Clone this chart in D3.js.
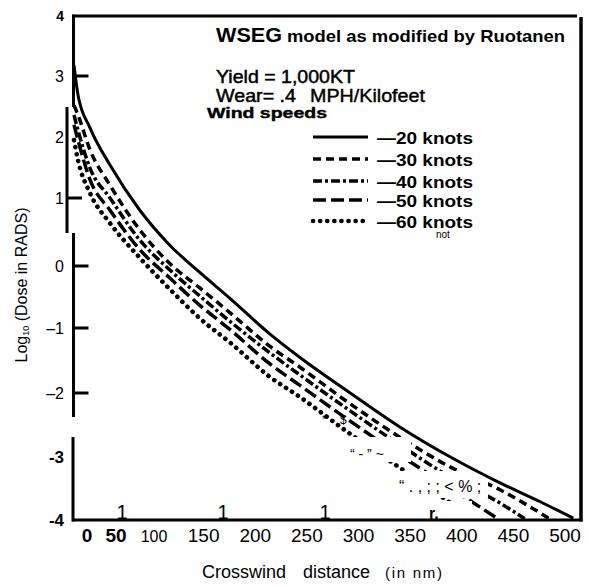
<!DOCTYPE html>
<html><head><meta charset="utf-8">
<script src="https://cdn.jsdelivr.net/npm/d3@7"></script>
<style>
body{margin:0;background:#fff}
svg{display:block}
text{font-family:"Liberation Sans",Arial,Helvetica,sans-serif;fill:#000}
</style>
</head><body><div id="chart"></div>
<script>
// ---- data ----
const windSpeeds = ["20 knots","30 knots","40 knots","50 knots","60 knots"];
const dist20 = [0,5,20,45,84,117,146,176,214,243,292,340,389,437,476,508];
const dose20 = [3.18,2.69,2.15,1.54,0.82,0.31,-0.10,-0.53,-1.09,-1.45,-2.00,-2.53,-3.00,-3.41,-3.71,-3.97];
const dist30 = [0,5,20,45,84,117,146,176,214,243,292,340,389,437,485];
const dose30 = [2.52,2.36,1.79,1.21,0.53,0.04,-0.35,-0.76,-1.28,-1.60,-2.17,-2.69,-3.16,-3.52,-3.98];
const dist40 = [0,5,20,45,84,117,146,176,214,243,292,340,389,437,461];
const dose40 = [2.36,2.11,1.49,1.00,0.38,-0.06,-0.48,-0.90,-1.38,-1.72,-2.28,-2.81,-3.32,-3.73,-3.98];
const dist50 = [0,5,20,45,84,117,146,176,214,243,292,340,389,435];
const dose50 = [2.20,1.95,1.30,0.82,0.24,-0.19,-0.63,-1.03,-1.55,-1.88,-2.44,-2.97,-3.49,-3.98];
const dist60 = [0,5,20,45,84,117,146,176,214,243,292,340,389,409];
const dose60 = [1.95,1.62,1.08,0.63,0.12,-0.37,-0.84,-1.23,-1.75,-2.06,-2.64,-3.17,-3.73,-3.98];
const xTicks = [0,50,100,150,200,250,300,350,400,450,500];
const xTickLabels = ["0","50","100","150","200","250","300","350","400","450","500"];
const yTicks = [4,3,2,1,0,-1,-2,-3,-4];
const yTickLabels = ["4","3","2","1","0","\u20131","\u20132","-3","-4"];
const yTickMarks = [3,1,0,-1,-2];

// ---- build ----
const W = 589, H = 586;
const svg = d3.select("#chart").append("svg").attr("width", W).attr("height", H);
const x = d3.scaleLinear().domain([0,50,100,500]).range([74,114,152,565]);
const y = d3.scaleLinear().domain([-4,-3,-2,-1,0,1,2,3,4]).range([520,457,393,328,266,198,137,76,16]);

const styles = [
  {dash:null, w:3},
  {dash:"8,5", w:3.5},
  {dash:"9,3,3,3", w:3.5},
  {dash:"13,5", w:3.5},
  {dash:"0.1,7", w:4.6, cap:"round"}
];
const series = [
  {name:windSpeeds[0], d:dist20, v:dose20},
  {name:windSpeeds[1], d:dist30, v:dose30},
  {name:windSpeeds[2], d:dist40, v:dose40},
  {name:windSpeeds[3], d:dist50, v:dose50},
  {name:windSpeeds[4], d:dist60, v:dose60}
].map((s,i)=>({...s, style:styles[i], pts:s.d.map((dd,j)=>[dd,s.v[j]])}));

const line = d3.line().x(p=>x(p[0])).y(p=>y(p[1])).curve(d3.curveMonotoneX);

function drawSeries(g, s){
  g.append("path").attr("d", line(s.pts)).attr("fill","none").attr("stroke","#000")
   .attr("stroke-width", s.style.w)
   .attr("stroke-dasharray", s.style.dash)
   .attr("stroke-linecap", s.style.cap || "butt");
}
const gCurves = svg.append("g");
series.slice(1).reverse().forEach(s=>drawSeries(gCurves, s));

// white masks from scan overlays
const masks = [[347,437,64,25],[396,471,92,27],[444,501,28,17]];
svg.append("g").selectAll("rect").data(masks).join("rect")
  .attr("x",d=>d[0]).attr("y",d=>d[1]).attr("width",d=>d[2]).attr("height",d=>d[3]).attr("fill","#fff");

drawSeries(svg.append("g"), series[0]);

// ---- frame / axes ----
const ax = svg.append("g").attr("stroke","#000").attr("stroke-width",3).attr("fill","none");
ax.append("line").attr("x1",72.5).attr("x2",577).attr("y1",y(4)).attr("y2",y(4));
ax.append("line").attr("x1",581).attr("x2",581).attr("y1",17).attr("y2",521.5).attr("stroke-width",3.5);
ax.append("line").attr("x1",72).attr("x2",582.5).attr("y1",y(-4)).attr("y2",y(-4));
const leftSegs = [[73.5,14.5,107],[67,107,233],[73.5,233,417],[73,437,521.5]];
ax.selectAll("line.ls").data(leftSegs).join("line").attr("class","ls")
  .attr("x1",d=>d[0]).attr("x2",d=>d[0]).attr("y1",d=>d[1]).attr("y2",d=>d[2]);
function axisXAt(py){ return (py>107 && py<233) ? 67 : 73.5; }
ax.selectAll("line.yt").data(yTickMarks).join("line").attr("class","yt")
  .attr("x1",d=>axisXAt(y(d))).attr("x2",d=>axisXAt(y(d))+15)
  .attr("y1",d=>y(d)).attr("y2",d=>y(d));

// y tick labels
svg.append("g").selectAll("text").data(yTicks).join("text")
  .attr("x",64).attr("y",d=>y(d)).attr("dy","0.36em").attr("text-anchor","end")
  .attr("font-size",(d,i)=> d===4 ? 14 : (d<=-3 ? 17 : 16))
  .attr("font-weight",d=> (d<=-3 || d===4) ? "bold" : "normal")
  .text((d,i)=>yTickLabels[i]);

// x tick labels
svg.append("g").selectAll("text").data(xTicks).join("text")
  .attr("x",(d)=>x(d) + (d===0 ? 13 : (d===50 ? 2 : (d===100 ? 2 : 0))))
  .attr("y",542).attr("text-anchor","middle")
  .attr("font-size",d=> d===100 ? 16 : 19)
  .attr("font-weight",d=> d<=50 ? "bold" : "normal")
  .text((d,i)=>xTickLabels[i]);

// scan artifact "1" tick marks
svg.append("g").selectAll("text").data([122,223,325]).join("text")
  .attr("x",d=>d).attr("y",519).attr("text-anchor","middle").attr("font-size",20)
  .attr("fill","#444").text("1");

// axis titles
const yt = svg.append("text").attr("transform","translate(27,285) rotate(-90)")
  .attr("text-anchor","middle").attr("font-size",16);
yt.append("tspan").text("Log");
yt.append("tspan").attr("font-size",9).attr("dy",2).text("10");
yt.append("tspan").attr("dy",-2).text(" (Dose in RADS)");

svg.append("text").attr("x",202).attr("y",578).attr("font-size",18).text("Crosswind");
svg.append("text").attr("x",303).attr("y",578).attr("font-size",18).text("distance");
svg.append("text").attr("x",385).attr("y",578).attr("font-size",15)
  .attr("textLength",57).attr("lengthAdjust","spacing").text("(in nm)");

// annotation block
svg.append("text").attr("x",216).attr("y",42).attr("font-size",20).attr("font-weight","bold")
  .attr("textLength",66).attr("lengthAdjust","spacingAndGlyphs").text("WSEG");
svg.append("text").attr("x",287).attr("y",42).attr("font-size",17).attr("font-weight","bold")
  .attr("textLength",278).attr("lengthAdjust","spacingAndGlyphs").text("model as modified by Ruotanen");
svg.append("text").attr("x",216).attr("y",83).attr("font-size",19)
  .attr("stroke","#000").attr("stroke-width",0.5)
  .attr("textLength",139).attr("lengthAdjust","spacingAndGlyphs").text("Yield = 1,000KT");
svg.append("text").attr("x",216).attr("y",102).attr("font-size",19)
  .attr("stroke","#000").attr("stroke-width",0.5)
  .attr("textLength",80).attr("lengthAdjust","spacingAndGlyphs").text("Wear= .4");
svg.append("text").attr("x",310).attr("y",102).attr("font-size",18)
  .attr("stroke","#000").attr("stroke-width",0.4)
  .attr("textLength",115).attr("lengthAdjust","spacingAndGlyphs").text("MPH/Kilofeet");
svg.append("text").attr("x",207).attr("y",118).attr("font-size",15).attr("font-weight","bold")
  .attr("stroke","#000").attr("stroke-width",0.4)
  .attr("textLength",120).attr("lengthAdjust","spacingAndGlyphs").text("Wind speeds");

// legend
const legendY = [137,159,181,200,221];
const lg = svg.append("g");
series.forEach((s,i)=>{
  lg.append("line").attr("x1",313).attr("x2",368).attr("y1",legendY[i]).attr("y2",legendY[i])
    .attr("stroke","#000").attr("stroke-width",s.style.w)
    .attr("stroke-dasharray",s.style.dash).attr("stroke-linecap",s.style.cap||"butt");
  lg.append("text").attr("x",377).attr("y",legendY[i]+6.5).attr("font-size",16).attr("font-weight","bold")
    .attr("textLength",96).attr("lengthAdjust","spacingAndGlyphs").text("\u2014" + s.name);
});

// scan overlay text
svg.append("text").attr("x",436).attr("y",238).attr("font-size",10).attr("fill","#555").text("not");
svg.append("text").attr("x",322).attr("y",423).attr("font-size",10).text("*");
svg.append("text").attr("x",340).attr("y",424).attr("font-size",12).text("$");
svg.append("text").attr("x",350).attr("y",459).attr("font-size",14).text("\u201C - \u201D ~");
svg.append("text").attr("x",399).attr("y",492).attr("font-size",16).text("\u201C . , ; ; < % ;");
svg.append("text").attr("x",429).attr("y",519).attr("font-size",16).attr("font-weight","bold").text("r.");
</script>
</body></html>
